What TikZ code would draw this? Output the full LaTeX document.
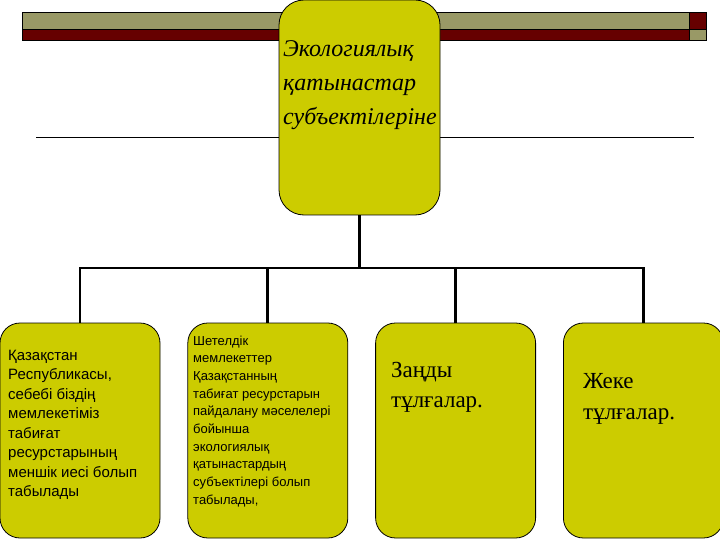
\documentclass[tikz,border=0pt]{standalone}
\usepackage{fontspec}
\setmainfont{Liberation Serif}
\setsansfont{Liberation Sans}
\usetikzlibrary{positioning}
\definecolor{boxfill}{RGB}{204,204,0}
\definecolor{barolive}{RGB}{153,153,102}
\definecolor{barred}{RGB}{102,0,0}
\tikzset{
    %Define style for boxes
    punkt/.style={
           rectangle,
           rounded corners=20pt,
           draw=black, line width=0.8pt,
           fill=boxfill,
           minimum width=160pt,
           minimum height=215pt,
           inner sep=0pt},
    toppunkt/.style={
           punkt,
           rounded corners=25pt,
           minimum width=161pt},
    %Define style for texts in boxes (placed at baseline of last line)
    tekst/.style={
           anchor=base west,
           align=left,
           inner sep=0pt},
    %Define style for the top bars
    bar/.style={
           draw=black, line width=0.8pt},
    % Define line style
    pil/.style={
           line width=2.8pt}
}
\begin{document}
\begin{tikzpicture}[x=1pt, y=-1pt]
\useasboundingbox (0,0) rectangle (720,540);

%bars at the top
\draw[bar, fill=barolive] (22,12) rectangle (689,29);
\draw[bar, fill=barred] (22,29) rectangle (689,40);
\draw[bar, fill=barred] (689,12) rectangle (706,29);
\draw[bar, fill=barolive] (689,29) rectangle (706,40);
\draw[line width=0.8pt] (36,137) -- (694,137);

%top box
\node[toppunkt] (top) at (359.5,107.5) {};
\node[tekst, font=\itshape\fontsize{24}{34}\selectfont] (toptext) at (283,125)
  {Экологиялық\\қатынастар\\субъектілеріне};

%lower boxes
\node[punkt] (box1) at (80,430.5) {};
\node[punkt, right=27pt of box1] (box2) {};
\node[punkt, right=27pt of box2] (box3) {};
\node[punkt, right=27pt of box3] (box4) {};

\node[tekst, font=\sffamily\fontsize{15}{19.5}\selectfont] (text1) at (8,496.5)
  {Қазақстан\\Республикасы,\\себебі біздің\\мемлекетіміз\\табиғат\\ресурстарының\\меншік иесі болып\\табылады};
\node[tekst, font=\sffamily\fontsize{13}{17.7}\selectfont] (text2) at (193,504.3)
  {Шетелдік\\мемлекеттер\\Қазақстанның\\табиғат ресурстарын\\пайдалану мәселелері\\бойынша\\экологиялық\\қатынастардың\\субъектілері болып\\табылады,};
\node[tekst, font=\fontsize{23}{30}\selectfont] (text3) at (391,407)
  {Заңды\\тұлғалар.};
\node[tekst, font=\fontsize{23}{31}\selectfont] (text4) at (583,419)
  {Жеке\\тұлғалар.};

%connectors
\coordinate (bus) at (359.5,268);
\draw[pil] (top.south) -- (bus);
\foreach \n in {1,...,4}
  \draw[pil] (bus) -| (box\n.north);

\end{tikzpicture}
\end{document}
